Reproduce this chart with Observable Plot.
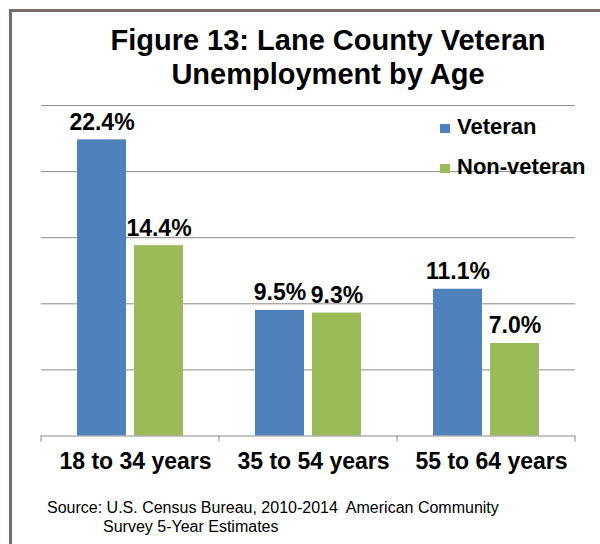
<!DOCTYPE html>
<html><head><meta charset="utf-8">
<script src="https://cdn.jsdelivr.net/npm/d3@7"></script>
<script src="https://cdn.jsdelivr.net/npm/@observablehq/plot@0.6"></script>
<style>
  body{margin:0;background:#fff;font-family:"Liberation Sans",Arial,sans-serif;color:#000;}
  #wrap{position:relative;width:600px;height:544px;overflow:hidden;}
  #frame{position:absolute;left:9px;top:9px;width:700px;height:700px;border-left:3px solid #7a6f68;border-top:3px solid #7a6f68;}
  #chart{position:absolute;left:0;top:0;}
  #title{position:absolute;left:28px;width:600px;top:22.5px;text-align:center;font-weight:bold;font-size:29px;line-height:34px;}
  #legend{position:absolute;left:440px;top:107.4px;font-weight:bold;font-size:22px;line-height:40px;}
  #legend .row{white-space:nowrap;}
  #legend .sw{display:inline-block;width:10px;height:9px;margin-right:7px;vertical-align:1px;}
  #source{position:absolute;left:47px;top:498px;font-size:16px;line-height:19px;white-space:pre;}
  #source .l2{padding-left:56px;}
</style>
</head><body>
<div id="wrap">
  <div id="frame"></div>
  <div id="chart"></div>
  <div id="title">Figure 13: Lane County Veteran<br>Unemployment by Age</div>
  <div id="legend"></div>
  <div id="source"></div>
</div>
<script>
const ages = ["18 to 34 years", "35 to 54 years", "55 to 64 years"];
const series = ["Veteran", "Non-veteran"];
const veteran = [22.4, 9.5, 11.1];
const nonVeteran = [14.4, 9.3, 7.0];
const gridTicks = [5, 10, 15, 20, 25];
const colors = ["#4f81bd", "#9bbb59"];
const sourceLines = ["Source: U.S. Census Bureau, 2010-2014  American Community", "Survey 5-Year Estimates"];

const data = [];
ages.forEach((a, i) => {
  data.push({age: a, series: series[0], value: veteran[i]});
  data.push({age: a, series: series[1], value: nonVeteran[i]});
});

const plot = Plot.plot({
  width: 600,
  height: 544,
  marginTop: 105,
  marginBottom: 108.5,
  marginLeft: 40,
  marginRight: 24,
  style: {fontFamily: "'Liberation Sans', Arial, sans-serif", background: "transparent", overflow: "visible", color: "#000"},
  fx: {domain: ages, padding: 0, label: null},
  x: {domain: series, paddingInner: 0.14, paddingOuter: 0.62, axis: null},
  y: {domain: [0, 25], axis: null},
  color: {domain: series, range: colors},
  marks: [
    Plot.ruleY(gridTicks, {stroke: "#8a8a8a", strokeWidth: 1}),
    Plot.barY(data, {fx: "age", x: "series", y: "value", fill: "series"}),
    Plot.ruleY([0], {stroke: "#8a8a8a", strokeWidth: 1}),
    Plot.text(data, {fx: "age", x: "series", y: "value", text: d => d.value.toFixed(1) + "%",
      lineAnchor: "bottom", dy: -10, fontSize: 23, fontWeight: "bold", fill: "#000"}),
    Plot.axisFx({anchor: "bottom", tickSize: 0, tickPadding: 17, fontSize: 23, fontWeight: "bold", dx: 5, label: null})
  ]
});
document.getElementById("chart").appendChild(plot);

// boundary tick marks at the category band edges, from the library's scales
const fx = plot.scale("fx"), ys = plot.scale("y");
const y0 = ys.apply(0);
const edges = ages.map(a => fx.apply(a)).concat([fx.apply(ages[ages.length - 1]) + fx.bandwidth]);
d3.select(plot).append("g").selectAll("line").data(edges).join("line")
  .attr("x1", d => d).attr("x2", d => d)
  .attr("y1", y0).attr("y2", y0 + 6)
  .attr("stroke", "#8a8a8a");

// legend
const lg = d3.select("#legend");
series.forEach((s, i) => {
  const row = lg.append("div").attr("class", "row");
  row.append("span").attr("class", "sw").style("background", colors[i]);
  row.append("span").text(s);
});

// source note
const src = d3.select("#source");
sourceLines.forEach((t, i) => src.append("div").attr("class", i ? "l2" : "l1").text(t));
</script>
</body></html>
